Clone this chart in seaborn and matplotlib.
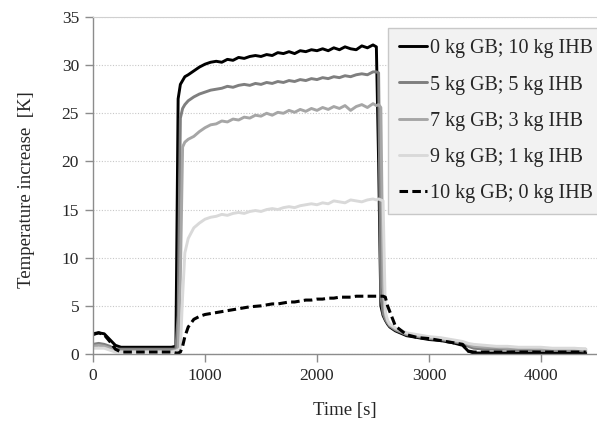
import matplotlib
matplotlib.use('Agg')
import matplotlib.pyplot as plt
import seaborn as sns
import pandas as pd

##################################################################################
# data
##################################################################################
# time stamps [s]
TIME = [0, 50, 100, 150, 200, 250, 300, 400, 500, 600,
        700, 740, 760, 780, 800, 820, 850, 900, 950, 1000,
        1050, 1100, 1150, 1200, 1250, 1300, 1350, 1400, 1450, 1500,
        1550, 1600, 1650, 1700, 1750, 1800, 1850, 1900, 1950, 2000,
        2050, 2100, 2150, 2200, 2250, 2300, 2350, 2400, 2450, 2500,
        2530, 2550, 2570, 2590, 2610, 2630, 2650, 2700, 2800, 2900,
        3000, 3100, 3200, 3300, 3350, 3400, 3500, 3600, 3700, 3800,
        3900, 4000, 4100, 4200, 4300, 4400]

# temperature increase [K] per mixture
GB0_IHB10 = [2.0, 2.2, 2.1, 1.5, 0.9, 0.7, 0.7, 0.7, 0.7, 0.7,
             0.7, 0.8, 26.5, 28.0, 28.4, 28.8, 29.0, 29.4, 29.8, 30.1,
             30.3, 30.4, 30.3, 30.6, 30.5, 30.8, 30.7, 30.9, 31.0, 30.9,
             31.1, 31.0, 31.3, 31.2, 31.4, 31.2, 31.5, 31.4, 31.6, 31.5,
             31.7, 31.5, 31.8, 31.6, 31.9, 31.7, 31.6, 32.0, 31.8, 32.1,
             31.9, 20.0, 5.0, 4.0, 3.5, 3.1, 2.8, 2.4, 1.9, 1.7,
             1.5, 1.4, 1.2, 0.9, 0.3, 0.1, 0.1, 0.1, 0.1, 0.1,
             0.1, 0.1, 0.1, 0.1, 0.1, 0.1]

GB5_IHB5 = [1.0, 1.1, 1.0, 0.8, 0.5, 0.5, 0.5, 0.5, 0.5, 0.5,
            0.5, 0.5, 4.0, 24.5, 25.5, 25.9, 26.3, 26.7, 27.0, 27.2,
            27.4, 27.5, 27.6, 27.8, 27.7, 27.9, 28.0, 27.9, 28.1, 28.0,
            28.2, 28.1, 28.3, 28.2, 28.4, 28.3, 28.5, 28.4, 28.6, 28.5,
            28.7, 28.6, 28.8, 28.7, 28.9, 28.8, 29.0, 29.1, 29.0, 29.3,
            29.3, 29.2, 6.0, 4.2, 3.6, 3.2, 2.9, 2.5, 2.0, 1.8,
            1.6, 1.5, 1.3, 1.1, 0.8, 0.6, 0.5, 0.5, 0.5, 0.4,
            0.4, 0.4, 0.4, 0.4, 0.4, 0.3]

GB7_IHB3 = [0.8, 0.9, 0.8, 0.6, 0.3, 0.3, 0.3, 0.3, 0.3, 0.3,
            0.3, 0.4, 0.6, 8.0, 21.5, 22.0, 22.3, 22.6, 23.1, 23.5,
            23.8, 23.9, 24.2, 24.1, 24.4, 24.3, 24.6, 24.5, 24.8, 24.7,
            25.0, 24.8, 25.1, 25.0, 25.3, 25.1, 25.4, 25.2, 25.5, 25.3,
            25.6, 25.4, 25.7, 25.5, 25.8, 25.3, 25.7, 25.9, 25.6, 26.0,
            25.8, 25.9, 25.6, 7.0, 4.0, 3.4, 3.0, 2.6, 2.1, 1.9,
            1.7, 1.6, 1.4, 1.2, 1.0, 0.8, 0.7, 0.7, 0.6, 0.6,
            0.6, 0.5, 0.5, 0.5, 0.5, 0.5]

GB9_IHB1 = [0.6, 0.6, 0.6, 0.4, 0.2, 0.2, 0.2, 0.2, 0.2, 0.2,
            0.2, 0.3, 0.4, 0.6, 6.0, 10.5, 12.0, 13.1, 13.6, 14.0,
            14.2, 14.3, 14.5, 14.4, 14.6, 14.7, 14.6, 14.8, 14.9, 14.8,
            15.0, 15.1, 15.0, 15.2, 15.3, 15.2, 15.4, 15.5, 15.6, 15.5,
            15.7, 15.6, 15.9, 15.8, 15.7, 16.0, 15.9, 15.8, 16.0, 16.1,
            16.0, 16.1, 16.0, 15.9, 4.4, 3.5, 3.1, 2.7, 2.2, 2.0,
            1.8, 1.7, 1.5, 1.3, 1.1, 1.0, 0.9, 0.8, 0.8, 0.7,
            0.7, 0.7, 0.6, 0.6, 0.6, 0.5]

GB10_IHB0 = [2.1, 2.2, 2.0, 1.3, 0.5, 0.2, 0.2, 0.2, 0.2, 0.2,
             0.2, 0.1, 0.1, 0.2, 0.8, 1.8, 2.8, 3.6, 3.9, 4.1,
             4.2, 4.3, 4.4, 4.5, 4.6, 4.7, 4.8, 4.9, 4.95, 5.0,
             5.1, 5.2, 5.2, 5.3, 5.4, 5.4, 5.5, 5.6, 5.6, 5.7,
             5.7, 5.8, 5.8, 5.9, 5.9, 5.9, 6.0, 6.0, 6.0, 6.0,
             6.0, 6.0, 6.0, 6.0, 5.9, 5.0, 4.4, 2.9, 2.0, 1.7,
             1.6, 1.4, 1.2, 1.0, 0.3, 0.2, 0.2, 0.2, 0.2, 0.2,
             0.2, 0.2, 0.2, 0.2, 0.2, 0.2]

LABELS = ['0 kg GB; 10 kg IHB', '5 kg GB; 5 kg IHB', '7 kg GB; 3 kg IHB',
          '9 kg GB; 1 kg IHB', '10 kg GB; 0 kg IHB']
SERIES = [GB0_IHB10, GB5_IHB5, GB7_IHB3, GB9_IHB1, GB10_IHB0]
COLORS = ['#000000', '#7f7f7f', '#a6a6a6', '#d9d9d9', '#000000']

X_TICKS = [0, 1000, 2000, 3000, 4000]
Y_TICKS = [0, 5, 10, 15, 20, 25, 30, 35]

##################################################################################
# plotting
##################################################################################
sns.set_style('white')
plt.rcParams['font.family'] = ['Liberation Serif', 'DejaVu Serif']

fig = plt.figure(figsize=(5.97, 4.25), dpi=100)
ax = fig.add_axes([0.1558, 0.1671, 0.8442, 0.7929])

for vals, lab, col in zip(SERIES, LABELS, COLORS):
    df = pd.DataFrame({'time': TIME, 'dT': vals})
    if lab.startswith('10 kg'):
        sns.lineplot(data=df, x='time', y='dT', ax=ax, color=col, label=lab,
                     errorbar=None, linewidth=2.2, linestyle=(0, (2.8, 1.4)))
    else:
        sns.lineplot(data=df, x='time', y='dT', ax=ax, color=col, label=lab,
                     errorbar=None, linewidth=2.1)

ax.set_xlim(0, 4500)
ax.set_ylim(0, 35)
ax.set_xticks(X_TICKS)
ax.set_yticks(Y_TICKS)
ax.set_xlabel('')
ax.set_ylabel('')

ax.yaxis.grid(True, color='#c8c8c8', linestyle=(0, (1, 1.5)), linewidth=0.8)
ax.xaxis.grid(False)
ax.set_axisbelow(True)

for side in ['left', 'bottom']:
    ax.spines[side].set_color('#8c8c8c')
    ax.spines[side].set_linewidth(1.0)
ax.spines['top'].set_color('#d0d0d0')
ax.spines['right'].set_visible(False)

ax.tick_params(axis='both', which='major', direction='out', length=6,
               width=1.0, color='#8c8c8c', labelsize=12.5,
               labelcolor='#262626', left=True, bottom=True, pad=4)

leg = ax.legend(loc='upper left', bbox_to_anchor=(0.585, 0.967),
                fontsize=14.5, frameon=True, fancybox=False, framealpha=1,
                labelspacing=0.85, handlelength=1.4, handletextpad=0.12,
                borderpad=0.55, borderaxespad=0)
leg.get_frame().set_facecolor('#f2f2f2')
leg.get_frame().set_edgecolor('#c8c8c8')
leg.get_frame().set_linewidth(1.0)

fig.text(0.578, 0.035, 'Time [s]', ha='center', va='center', fontsize=13.5,
         color='#262626')
fig.text(0.045, 0.553, 'Temperature increase  [K]', ha='center',
         va='center', fontsize=13.5, rotation=90, color='#262626')

fig.savefig('out.png', dpi=100)
